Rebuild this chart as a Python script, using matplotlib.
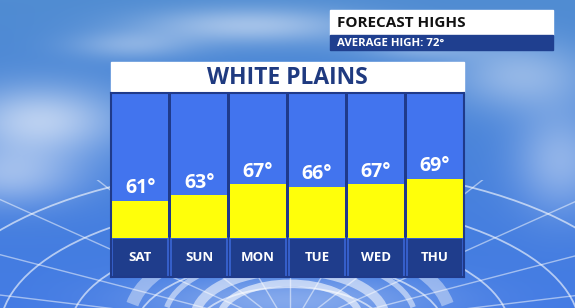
import numpy as np
import matplotlib
matplotlib.use('Agg')
import matplotlib.pyplot as plt
from matplotlib.patches import Rectangle, Ellipse, Arc

# data
days = ['SAT', 'SUN', 'MON', 'TUE', 'WED', 'THU']
highs = [61, 63, 67, 66, 67, 69]
city = 'WHITE PLAINS'
avg_high = 72

W, H = 575, 308
plt.rcParams['font.family'] = ['Open Sans', 'DejaVu Sans']

fig = plt.figure(figsize=(W / 100, H / 100), dpi=100)

# background sky + radar grid (pixel coords)
bg = fig.add_axes([0, 0, 1, 1])
bg.axis('off')

yy, xx = np.mgrid[0:H, 0:W].astype(float)
t = yy / H
top = np.array([80, 140, 210]) / 255
bot = np.array([66, 122, 228]) / 255
img = top[None, None, :] * (1 - t[..., None]) + bot[None, None, :] * t[..., None]

def blob(cx, cy, sx, sy, a):
    return a * np.exp(-(((xx - cx) / sx) ** 2 + ((yy - cy) / sy) ** 2))

cloud = (blob(40, 120, 80, 35, 0.7) + blob(10, 175, 70, 30, 0.5) + blob(250, 25, 110, 18, 0.55)
         + blob(130, 45, 60, 14, 0.35) + blob(520, 75, 70, 35, 0.45) + blob(560, 160, 45, 50, 0.45)
         + blob(420, 45, 60, 15, 0.35) + blob(290, 300, 150, 25, 0.4))
cloud = np.clip(cloud, 0, 0.85)
img = img * (1 - cloud[..., None]) + np.array([0.9, 0.93, 0.98])[None, None, :] * cloud[..., None]
bg.imshow(img, extent=(0, W, H, 0), aspect='auto', zorder=0)

cx, cy, asp = 290, 330, 0.45
clip = Rectangle((0, 180), W, H - 180, transform=bg.transData, visible=False)
bg.add_patch(clip)
for r in [95, 155, 220, 290, 365, 445, 540]:
    e = Ellipse((cx, cy), 2 * r, 2 * r * asp, fill=False, ec='white', lw=1.3, alpha=0.6, zorder=1)
    bg.add_patch(e)
    e.set_clip_path(clip)
for ang in np.radians(np.arange(0, 181, 15)):
    ln, = bg.plot([cx, cx + 800 * np.cos(ang)], [cy, cy - 800 * asp * np.sin(ang)],
                  color='white', lw=1.0, alpha=0.5, zorder=1)
    ln.set_clip_path(clip)
# bright swirl at the bottom
for r, lw, a in [(70, 5, 0.6), (95, 7, 0.55), (125, 4, 0.5), (160, 9, 0.4)]:
    bg.add_patch(Arc((cx, 318), 2 * r, 2 * r * 0.5, theta1=185, theta2=355,
                     ec='white', lw=lw, alpha=a, zorder=1))
bg.set_xlim(0, W)
bg.set_ylim(H, 0)

# forecast header box
bg.add_patch(Rectangle((330, 10), 223, 25, color='white', zorder=3))
bg.add_patch(Rectangle((330, 35), 223, 15, color='#1f3f8f', zorder=3))
bg.text(337, 23, 'FORECAST HIGHS', fontsize=11, fontweight='bold', color='#111111',
        va='center', ha='left', zorder=4)
bg.text(337, 43, f'AVERAGE HIGH: {avg_high}°', fontsize=8.2, fontweight='bold', color='white',
        va='center', ha='left', zorder=4)

# city title box
bg.add_patch(Rectangle((111, 62), 353, 31, color='white', zorder=3))
bg.text(287.5, 78, city, fontsize=16.5, fontweight='bold', color='#1f3a80',
        va='center', ha='center', zorder=4)

# chart panel
base = 47.5
ymin, ymax = 33.3, 100.2
ax = fig.add_axes([111 / W, 1 - 277 / H, 353 / W, 184 / H])
ax.set_facecolor('#1f3a8a')
x = np.arange(len(days))
ax.bar(x, ymax - base, bottom=base, width=0.95, color='#4274ee', edgecolor='none')
ax.bar(x, base - ymin, bottom=ymin, width=0.95, color='#1f3d8c', edgecolor='#3a66d6', lw=1.2)
ax.bar(x, np.array(highs) - base, bottom=base, width=0.95, color='#ffff0a', edgecolor='none')
for i, v in enumerate(highs):
    ax.text(i, v + 1.0, f'{v}°', ha='center', va='bottom', fontsize=14,
            fontweight='bold', color='white')
    ax.text(i, (ymin + base) / 2, days[i], ha='center', va='center', fontsize=9.5,
            fontweight='bold', color='white')
ax.set_xlim(-0.5, len(days) - 0.5)
ax.set_ylim(ymin, ymax)
ax.set_xticks([])
ax.set_yticks([])
for s in ax.spines.values():
    s.set_color('#1f3a8a')
    s.set_linewidth(1.5)

fig.savefig('out.png', dpi=100)
